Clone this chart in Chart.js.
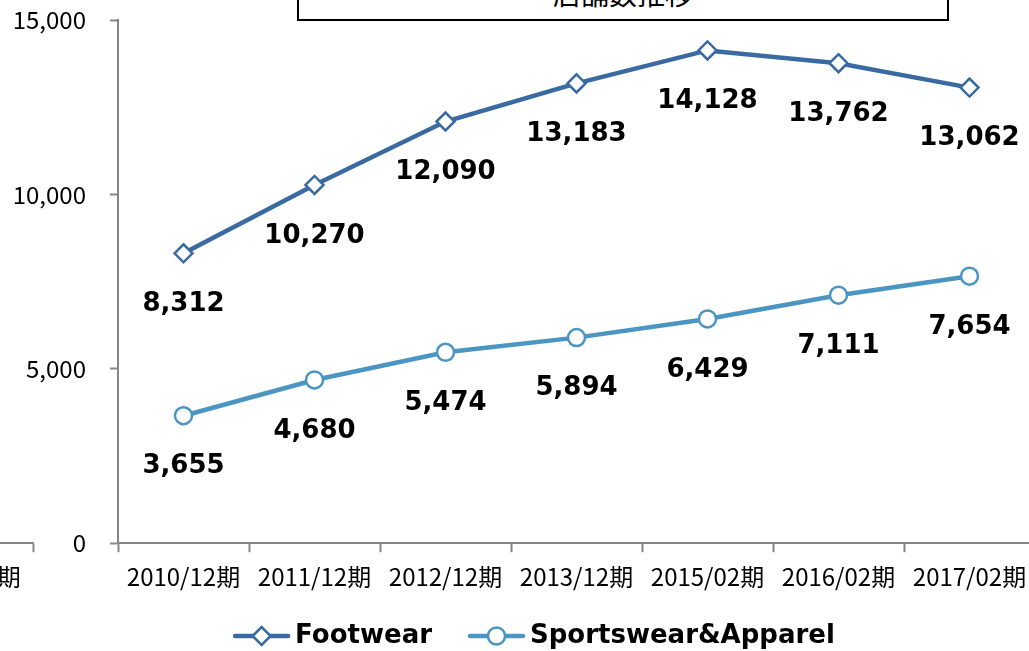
<!DOCTYPE html>
<html>
<head>
<meta charset="utf-8">
<script src="https://cdn.jsdelivr.net/npm/chart.js@4.4.1/dist/chart.umd.min.js"></script>
<style>
  html, body { margin: 0; padding: 0; background: #fff; }
  body { position: relative; width: 1029px; height: 651px; overflow: hidden; }
  #prev { position: absolute; left: -263px; top: 0; }
  #main { position: absolute; left: 0; top: 0; }
  #title {
    position: absolute; left: 297px; top: -31px; width: 652px; height: 52px;
    box-sizing: border-box; border: 2px solid #000; background: #fff;
    font: 28px "Noto Sans CJK JP", sans-serif; line-height: 1; color: #000;
    display: flex; align-items: flex-end; justify-content: center; padding-bottom: 12px;
  }
</style>
</head>
<body>
<canvas id="prev" width="300" height="651"></canvas>
<canvas id="main" width="1068" height="651"></canvas>
<div id="title">店舗数推移</div>
<script>
// 店舗数 data
const periods = ['2010/12期', '2011/12期', '2012/12期', '2013/12期', '2015/02期', '2016/02期', '2017/02期'];
const footwear = [8312, 10270, 12090, 13183, 14128, 13762, 13062];
const sportswear = [3655, 4680, 5474, 5894, 6429, 7111, 7654];
const yTicks = [0, 5000, 10000, 15000];
// the neighbouring chart, only its last axis tick shows at the left edge
const prevPeriods = ['2016/02期', '2017/02期'];

const axisGray = '#868686';
Chart.defaults.font.family = '"Noto Sans CJK JP", sans-serif';
Chart.defaults.color = '#000';

const fmt = v => v.toLocaleString('en-US');

const xAxis = () => ({
  offset: true,
  grid: { offset: true, drawOnChartArea: false, tickLength: 9, tickColor: axisGray, tickWidth: 2 },
  border: { color: axisGray, width: 2 },
  ticks: { color: '#000', font: { size: 24 }, padding: 10, maxRotation: 0, autoSkip: false }
});

// numbers under each point
const valueLabels = {
  id: 'valueLabels',
  afterDatasetsDraw(chart) {
    const ctx = chart.ctx;
    ctx.save();
    ctx.font = 'bold 26px "DejaVu Sans"';
    ctx.fillStyle = '#000';
    ctx.textAlign = 'center';
    ctx.textBaseline = 'middle';
    chart.data.datasets.forEach((ds, i) => {
      chart.getDatasetMeta(i).data.forEach((pt, j) => {
        ctx.fillText(fmt(ds.data[j]), pt.x, pt.y + 51);
      });
    });
    ctx.restore();
  }
};

// legend with line + marker like excel
const lineLegend = {
  id: 'lineLegend',
  afterDraw(chart) {
    const ctx = chart.ctx;
    const sets = chart.data.datasets;
    const sym = 57, gap = 5, itemGap = 36;
    ctx.save();
    ctx.font = 'bold 26px "DejaVu Sans"';
    const widths = sets.map(ds => ctx.measureText(ds.label).width);
    const total = widths.reduce((a, w) => a + sym + gap + w, 0) + itemGap * (sets.length - 1);
    let x = chart.width / 2 - total / 2;
    const y = 636;
    sets.forEach((ds, i) => {
      ctx.strokeStyle = ds.borderColor;
      ctx.lineWidth = ds.borderWidth;
      ctx.lineCap = 'round';
      ctx.beginPath();
      ctx.moveTo(x + 2, y);
      ctx.lineTo(x + sym - 2, y);
      ctx.stroke();
      const cx = x + sym / 2, r = ds.pointRadius;
      ctx.beginPath();
      if (ds.pointStyle === 'rectRot') {
        ctx.moveTo(cx - r, y); ctx.lineTo(cx, y - r); ctx.lineTo(cx + r, y); ctx.lineTo(cx, y + r); ctx.closePath();
      } else {
        ctx.arc(cx, y, r, 0, Math.PI * 2);
      }
      ctx.fillStyle = '#fff';
      ctx.fill();
      ctx.lineWidth = ds.pointBorderWidth;
      ctx.stroke();
      ctx.fillStyle = '#000';
      ctx.textAlign = 'left';
      ctx.textBaseline = 'middle';
      ctx.fillText(ds.label, x + sym + gap, y);
      x += sym + gap + widths[i] + itemGap;
    });
    ctx.restore();
  }
};

new Chart(document.getElementById('main'), {
  type: 'line',
  data: {
    labels: periods,
    datasets: [
      {
        label: 'Footwear',
        data: footwear,
        borderColor: '#3A6AA2',
        borderWidth: 4.5,
        pointStyle: 'rectRot',
        pointRadius: 9,
        pointBackgroundColor: '#fff',
        pointBorderColor: '#3A6AA2',
        pointBorderWidth: 2.5,
        tension: 0
      },
      {
        label: 'Sportswear&Apparel',
        data: sportswear,
        borderColor: '#4A95C2',
        borderWidth: 4.5,
        pointStyle: 'circle',
        pointRadius: 8.5,
        pointBackgroundColor: '#fff',
        pointBorderColor: '#4A95C2',
        pointBorderWidth: 2.5,
        tension: 0
      }
    ]
  },
  options: {
    responsive: false,
    animation: false,
    layout: { padding: { left: 0, right: 33, top: 20, bottom: 50 } },
    plugins: { legend: { display: false }, tooltip: { enabled: false } },
    scales: {
      x: xAxis(),
      y: {
        min: 0,
        max: 15000,
        afterBuildTicks: s => { s.ticks = yTicks.map(v => ({ value: v })); },
        ticks: { color: '#000', font: { size: 24 }, padding: 24, callback: v => fmt(v) },
        grid: { drawOnChartArea: false, tickLength: 8, tickColor: axisGray, tickWidth: 2 },
        border: { color: axisGray, width: 2 },
        afterFit: s => { s.width = 118; s.paddingTop = 0; s.paddingBottom = 0; }
      }
    }
  },
  plugins: [valueLabels, lineLegend]
});

new Chart(document.getElementById('prev'), {
  type: 'line',
  data: { labels: prevPeriods, datasets: [] },
  options: {
    responsive: false,
    animation: false,
    layout: { padding: { left: 20, right: 4, top: 20, bottom: 50 } },
    plugins: { legend: { display: false }, tooltip: { enabled: false } },
    scales: { x: xAxis(), y: { display: false, min: 0, max: 15000 } }
  }
});
</script>
</body>
</html>
